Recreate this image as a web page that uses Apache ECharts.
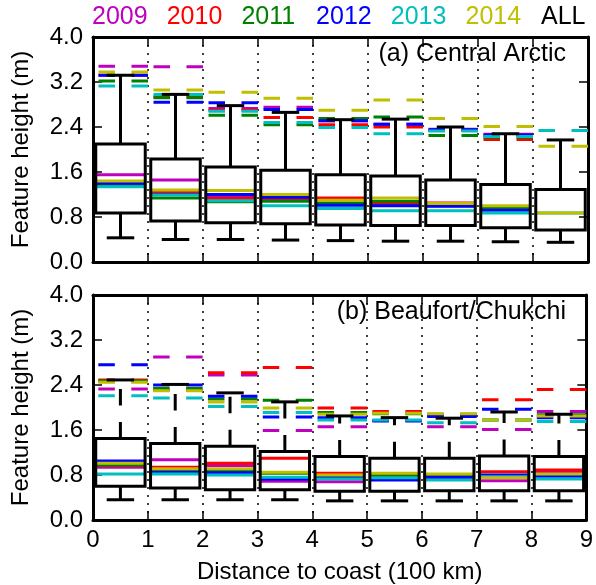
<!DOCTYPE html>
<html>
<head>
<meta charset="utf-8">
<title>Feature height vs distance to coast</title>
<script src="https://cdn.jsdelivr.net/npm/echarts@6/dist/echarts.min.js"></script>
<style>html,body{margin:0;background:#fff}#main{width:596px;height:585px}</style>
</head>
<body>
<div id="main"></div>
<script>
// bin centres (100 km)
const bins = [0.5, 1.5, 2.5, 3.5, 4.5, 5.5, 6.5, 7.5, 8.5];
const years = ['2009', '2010', '2011', '2012', '2013', '2014'];
const yearColors = ['#bf00bf', '#ff0000', '#008000', '#0000ff', '#00bfbf', '#bfbf00'];

// ALL: lower cap, q1, q3, upper cap
const allA = [[0.43,0.87,2.10,3.32],[0.40,0.73,1.83,2.98],[0.40,0.70,1.69,2.78],[0.39,0.68,1.63,2.66],
  [0.38,0.66,1.55,2.53],[0.37,0.65,1.53,2.54],[0.37,0.65,1.46,2.40],[0.36,0.61,1.38,2.28],[0.35,0.57,1.29,2.17]];
const allB = [[0.36,0.60,1.45,2.49],[0.36,0.57,1.36,2.41],[0.36,0.54,1.31,2.26],[0.36,0.54,1.22,2.10],
  [0.34,0.51,1.13,1.85],[0.34,0.51,1.10,1.82],[0.34,0.52,1.10,1.81],[0.34,0.52,1.14,1.92],[0.34,0.52,1.13,1.88]];

// per-year medians, rows in year order
const medA = [
  [1.55,1.46,1.17,1.16,1.03,1.04,1.00,0.95,null],
  [1.41,1.25,1.13,1.11,1.14,1.05,1.05,0.96,null],
  [1.38,1.14,1.07,1.08,1.05,1.08,1.01,0.97,null],
  [1.40,1.20,1.20,1.15,1.01,1.00,0.99,0.92,null],
  [1.34,1.19,1.09,1.00,0.95,0.91,0.91,0.87,0.87],
  [1.44,1.28,1.27,1.20,1.10,1.14,1.04,1.00,0.87]
];
// per-year upper whisker
const upA = [
  [3.48,3.47,2.73,2.75,2.51,2.45,2.36,2.27,null],
  [3.32,2.94,2.70,2.57,2.44,2.40,2.34,2.18,null],
  [3.22,2.92,2.61,2.44,2.55,2.58,2.25,2.22,null],
  [3.32,2.84,2.83,2.71,2.51,2.45,2.35,2.26,null],
  [3.13,2.98,2.68,2.48,2.39,2.28,2.33,2.23,2.34],
  [3.38,3.06,3.02,2.91,2.70,2.88,2.55,2.41,2.06]
];
const medB = [
  [0.94,1.07,0.97,0.69,0.68,0.72,0.74,0.70,0.85],
  [0.97,0.94,1.01,1.10,0.83,0.82,0.79,0.86,0.89],
  [0.98,0.88,0.88,0.83,0.77,0.78,0.78,0.77,0.80],
  [1.05,0.85,0.84,0.73,0.75,0.71,0.76,0.80,0.78],
  [0.82,0.82,0.80,0.76,0.73,0.75,0.71,0.77,0.73],
  [1.01,0.91,0.91,0.85,0.80,0.83,0.82,0.75,0.82]
];
const upB = [
  [2.33,2.90,2.58,1.59,1.66,1.77,1.66,1.61,1.93],
  [2.49,2.31,2.62,2.71,1.99,1.93,1.88,2.14,2.32],
  [2.47,2.34,2.15,2.13,1.91,1.89,1.86,1.78,1.87],
  [2.76,2.40,2.20,1.83,1.82,1.76,1.84,1.97,1.82],
  [2.21,2.17,2.02,1.91,1.78,1.78,1.73,1.78,1.75],
  [2.45,2.30,2.10,1.99,1.88,1.90,1.89,1.78,1.85]
];

const font = 'Liberation Sans, Arial, sans-serif';
const fs = 24;
const dash = [16.5, 16.5];

function boxItem(dashed) {
  return function (params, api) {
    const x = api.value(0);
    const a = api.coord([x - 0.45, api.value(3)]);
    const b = api.coord([x + 0.45, api.value(2)]);
    const top = api.coord([x, api.value(4)]);
    const bot = api.coord([x, api.value(1)]);
    const cap = api.size([0.25, 0])[0];
    const st = {stroke: '#000', lineWidth: 3, fill: null};
    const wst = dashed ? {stroke: '#000', lineWidth: 3, lineDash: dash} : st;
    return {type: 'group', children: [
      {type: 'line', shape: {x1: top[0], y1: a[1], x2: top[0], y2: top[1]}, style: wst},
      {type: 'line', shape: {x1: top[0], y1: b[1], x2: top[0], y2: bot[1]}, style: wst},
      {type: 'line', shape: {x1: top[0] - cap, y1: top[1], x2: top[0] + cap, y2: top[1]}, style: st},
      {type: 'line', shape: {x1: top[0] - cap, y1: bot[1], x2: top[0] + cap, y2: bot[1]}, style: st},
      {type: 'rect', shape: {x: a[0], y: a[1], width: b[0] - a[0], height: b[1] - a[1]}, style: st}
    ]};
  };
}

function yearItem(color) {
  return function (params, api) {
    const x = api.value(0);
    const m1 = api.coord([x - 0.45, api.value(1)]);
    const m2 = api.coord([x + 0.45, api.value(1)]);
    // dashed line drawn right to left across the bin
    const u1 = api.coord([x + 0.5, api.value(2)]);
    const u2 = api.coord([x - 0.5, api.value(2)]);
    return {type: 'group', children: [
      {type: 'line', shape: {x1: m1[0], y1: m1[1], x2: m2[0], y2: m2[1]}, style: {stroke: color, lineWidth: 3}},
      {type: 'line', shape: {x1: u1[0], y1: u1[1], x2: u2[0], y2: u2[1]}, style: {stroke: color, lineWidth: 3, lineDash: dash}}
    ]};
  };
}

function xAx(grid, pos, labels, split) {
  return {
    type: 'value', gridIndex: grid, position: pos, min: 0, max: 9, interval: 1,
    axisLine: {show: true, onZero: false, lineStyle: {color: '#000', width: 3}},
    axisTick: {show: true, inside: true, length: 9, lineStyle: {color: '#000', width: 1.5}},
    axisLabel: {show: labels, color: '#000', fontSize: fs, fontFamily: font, margin: 8},
    splitLine: {show: split, lineStyle: {color: '#000', width: 1.5, type: [2, 6]}},
    name: labels ? 'Distance to coast (100 km)' : '', nameLocation: 'middle', nameGap: 40,
    nameTextStyle: {color: '#000', fontSize: fs, fontFamily: font}
  };
}
function yAx(grid, pos, labels) {
  return {
    type: 'value', gridIndex: grid, position: pos, min: 0, max: 4, interval: 0.8,
    axisLine: {show: true, onZero: false, lineStyle: {color: '#000', width: 3}},
    axisTick: {show: true, inside: true, length: 9, lineStyle: {color: '#000', width: 1.5}},
    axisLabel: {show: labels, color: '#000', fontSize: fs, fontFamily: font, margin: 10,
      formatter: v => v.toFixed(1)},
    splitLine: {show: false},
    name: labels ? 'Feature height (m)' : '', nameLocation: 'middle', nameGap: 60,
    nameTextStyle: {color: '#000', fontSize: fs, fontFamily: font}
  };
}

const series = [];
[[medA, upA, allA, 0], [medB, upB, allB, 1]].forEach(([med, up, all, g]) => {
  years.forEach((y, i) => {
    const data = [];
    bins.forEach((x, k) => { if (med[i][k] != null) data.push([x, med[i][k], up[i][k]]); });
    series.push({type: 'custom', name: y + (g ? 'b' : 'a'), xAxisIndex: g * 2, yAxisIndex: g * 2,
      renderItem: yearItem(yearColors[i]), data: data, clip: false, silent: true});
  });
  series.push({type: 'custom', name: 'ALL' + g, xAxisIndex: g * 2, yAxisIndex: g * 2,
    renderItem: boxItem(g === 1), data: bins.map((x, k) => [x].concat(all[k])), clip: false, silent: true, z: 3});
});

const tf = '25px ' + font;
const legendText = years.map((y, i) => ({
  type: 'text', left: 92 + i * 74.7, top: 5,
  style: {text: y, fill: yearColors[i], font: tf}
}));
legendText.push({type: 'text', left: 541, top: 5, style: {text: 'ALL', fill: '#000', font: tf}});
legendText.push({type: 'text', right: 30, top: 42, style: {text: '(a) Central Arctic', fill: '#000', font: tf}});
legendText.push({type: 'text', right: 30, top: 300, style: {text: '(b) Beaufort/Chukchi', fill: '#000', font: tf}});

const chart = echarts.init(document.getElementById('main'));
chart.setOption({
  animation: false,
  backgroundColor: '#fff',
  grid: [
    {left: 93, top: 37, width: 495, height: 225},
    {left: 93, top: 295, width: 495, height: 225}
  ],
  xAxis: [xAx(0, 'bottom', false, true), xAx(0, 'top', false, false), xAx(1, 'bottom', true, true), xAx(1, 'top', false, false)],
  yAxis: [yAx(0, 'left', true), yAx(0, 'right', false), yAx(1, 'left', true), yAx(1, 'right', false)],
  graphic: legendText,
  series: series
});
</script>
</body>
</html>
